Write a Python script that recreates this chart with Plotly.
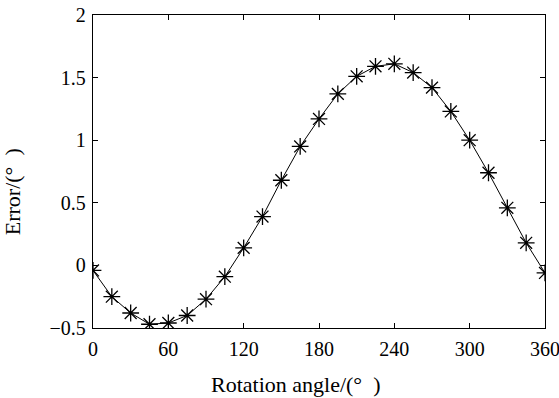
import plotly.graph_objects as go

angles = [0, 15, 30, 45, 60, 75, 90, 105, 120, 135, 150, 165, 180, 195, 210,
          225, 240, 255, 270, 285, 300, 315, 330, 345, 360]
errors = [-0.04, -0.25, -0.38, -0.47, -0.46, -0.40, -0.27, -0.09, 0.14, 0.39,
          0.68, 0.95, 1.17, 1.37, 1.51, 1.59, 1.61, 1.54, 1.42, 1.23, 1.00,
          0.74, 0.46, 0.18, -0.06]
x_ticks = [0, 60, 120, 180, 240, 300, 360]
y_ticks = [-0.5, 0, 0.5, 1, 1.5, 2]
x_title = "Rotation angle/(°  )"
y_title = "Error/(°  )"

font_family = "Liberation Serif, Times New Roman, serif"

fig = go.Figure()
fig.add_trace(go.Scatter(
    x=angles, y=errors, mode="lines+markers",
    line=dict(color="black", width=1),
    marker=dict(symbol="asterisk-open", size=14, color="black",
                line=dict(color="black", width=1.3)),
    showlegend=False,
))

axis_common = dict(
    showline=True, linecolor="black", linewidth=1.3, mirror="ticks",
    ticks="inside", ticklen=5, tickwidth=1, tickcolor="black",
    showgrid=False, zeroline=False, ticklabeloverflow="allow",
    automargin=False,
    tickfont=dict(family=font_family, size=20, color="black"),
)

fig.update_layout(
    width=559, height=398,
    margin=dict(l=93, r=14, t=15, b=70, autoexpand=False),
    paper_bgcolor="white", plot_bgcolor="white",
    font=dict(family=font_family, size=20, color="black"),
    xaxis=dict(range=[0, 360], tickvals=x_ticks, ticklabelstandoff=3,
               **axis_common),
    yaxis=dict(range=[-0.5, 2], tickvals=y_ticks, ticklabelstandoff=2,
               **axis_common),
    annotations=[
        dict(text=x_title, xref="paper", yref="paper", x=0.447, y=-0.182,
             xanchor="center", yanchor="middle", showarrow=False,
             font=dict(family=font_family, size=22, color="black")),
        dict(text=y_title, xref="paper", yref="paper", x=-0.179, y=0.434,
             xanchor="center", yanchor="middle", showarrow=False,
             textangle=-90,
             font=dict(family=font_family, size=22, color="black")),
    ],
)

fig.write_html("out.html")
